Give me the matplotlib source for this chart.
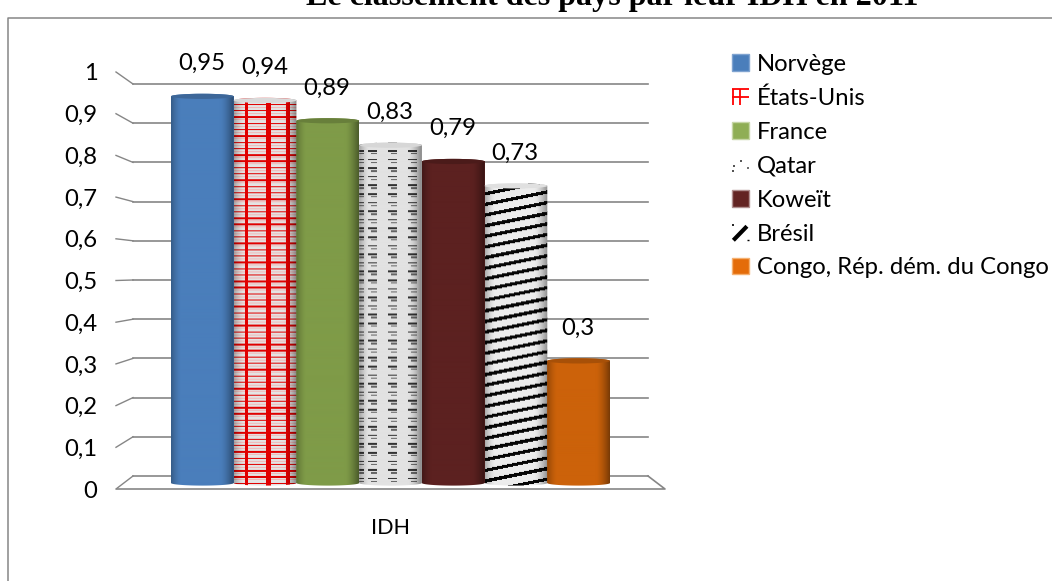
import numpy as np
import matplotlib
matplotlib.use('Agg')
import matplotlib.pyplot as plt
from matplotlib.legend_handler import HandlerBase
from matplotlib.lines import Line2D
from matplotlib.patches import Ellipse, Patch, PathPatch
from matplotlib.path import Path

W, H = 1052, 581

TITLE = 'Le classement des pays par leur IDH en 2011'
COUNTRIES = ['Norvège', 'États-Unis', 'France', 'Qatar', 'Koweït', 'Brésil', 'Congo, Rép. dém. du Congo']
IDH = [0.95, 0.94, 0.89, 0.83, 0.79, 0.73, 0.3]
VALUE_LABELS = ['0,95', '0,94', '0,89', '0,83', '0,79', '0,73', '0,3']
BASE_COLORS = ['#4a7ebb', '#e4e4e4', '#7f9b48', '#e2e2e2', '#5c2120', '#ececec', '#cc620a']
TEXTURES = [None, 'grid', None, 'dash', None, 'stripes', None]
Y_TICKS = [0, 0.1, 0.2, 0.3, 0.4, 0.5, 0.6, 0.7, 0.8, 0.9, 1]
Y_LABELS = ['0', '0,1', '0,2', '0,3', '0,4', '0,5', '0,6', '0,7', '0,8', '0,9', '1']

FONT = 'Lato'
GRID = '#868686'


def px_rect(x0, y0, x1, y1):
    # pixels du haut de l'image -> rect matplotlib
    return [x0 / W, 1 - y1 / H, (x1 - x0) / W, (y1 - y0) / H]


def make_texture(kind, base, w, h):
    rgb = np.ones((h, w, 3)) * np.array(matplotlib.colors.to_rgb(base))
    yy, xx = np.mgrid[0:h, 0:w]
    u = (xx + 0.5) / w
    if kind == 'grid':
        red = np.array([0.88, 0.0, 0.0])
        row = (yy - 1) % 6.3
        rgb[row < 1.4] = red
        rgb[(row >= 3) & (row < 4)] = [0.95, 0.72, 0.72]
        for c, t in [(0.2, 0.03), (0.54, 0.04), (0.86, 0.027)]:
            rgb[np.abs(u - c) < t] = red
    elif kind == 'dash':
        dark = np.array([0.2, 0.2, 0.2])
        row = yy % 8.6
        for c in [0.0, 0.21, 0.53, 0.85]:
            near = np.abs(u - c) < 0.075
            rgb[near & (row < 1.6)] = dark
            rgb[near & (u > c - 0.02) & (row >= 3) & (row < 4.4)] = dark * 2
    elif kind == 'stripes':
        phase = (yy + xx * 0.2) % 10.6
        rgb[phase < 3.4] = [0.02, 0.02, 0.02]
    # ombrage du cylindre
    shade = np.ones(w)
    uu = (np.arange(w) + 0.5) / w
    shade -= 0.28 * np.clip((0.16 - uu) / 0.16, 0, 1) ** 1.5
    shade -= 0.42 * np.clip((uu - 0.78) / 0.22, 0, 1) ** 1.5
    return np.clip(rgb * shade[None, :, None], 0, 1)


def cylinder_path(x0, x1, top, dy):
    t = np.linspace(0, np.pi, 40)
    cx, rx = (x0 + x1) / 2, (x1 - x0) / 2
    upper = np.column_stack([cx + rx * np.cos(t), top + dy * np.sin(t)])
    lower = np.column_stack([cx - rx * np.cos(t), -dy * np.sin(t)])
    return Path(np.vstack([upper, lower, upper[:1]]), closed=True)


class SwatchHandler(HandlerBase):
    # petits motifs de la légende, en coordonnées 0-1 du carré
    STROKES = {
        'grid': [('#ff0000', 1.3, [(0.05, 0.05), (0.05, 0.95)]), ('#ff0000', 1.3, [(0.5, 0.05), (0.5, 0.95)]),
                 ('#ff0000', 1.3, [(0, 0.95), (1, 0.95)]), ('#ff0000', 1.3, [(0, 0.5), (1, 0.5)])],
        'dash': [('#333333', 1.2, [(0.02, 0.1), (0.1, 0.1)]), ('#333333', 1.2, [(0.08, 0.4), (0.16, 0.4)]),
                 ('#555555', 1.4, [(0.45, 0.72), (0.58, 0.72)]), ('#555555', 1.2, [(0.9, 0.3), (0.98, 0.3)])],
        'stripes': [('black', 3.0, [(0.08, 0.02), (0.88, 0.85)]), ('black', 1.2, [(0.02, 0.95), (0.14, 0.95)]),
                    ('black', 1.0, [(0.9, 0.02), (1.0, 0.02)])],
    }

    def __init__(self, kind):
        super().__init__()
        self.kind = kind

    def create_artists(self, legend, orig_handle, xdescent, ydescent, width, height, fontsize, trans):
        lines = []
        for color, lw, pts in self.STROKES[self.kind]:
            px = [-xdescent + p[0] * width for p in pts]
            py = [-ydescent + p[1] * height for p in pts]
            lines.append(Line2D(px, py, color=color, lw=lw, transform=trans, solid_capstyle='butt'))
        return lines


fig = plt.figure(figsize=(W / 100, H / 100), dpi=100)

# cadre du graphique
fig.add_artist(Line2D([8 / W, 8 / W, 1], [0, 1 - 18 / H, 1 - 18 / H], color=GRID, lw=1.1))
fig.text(612 / W, 1 - 5 / H, TITLE, family='Liberation Serif', weight='bold', fontsize=23.1,
         ha='center', va='baseline', color='black')

# parois : axe en perspective
wall = fig.add_axes(px_rect(117, 72, 665, 489))
wall.set_xlim(117, 665)
wall.set_ylim(0, 1)
for s in wall.spines.values():
    s.set_visible(False)
wall.set_xticks([])
wall.set_yticks(Y_TICKS, Y_LABELS, family=FONT, fontsize=17.2)
wall.tick_params(axis='y', length=0, pad=14)


def back(v):
    # hauteur sur le mur du fond (84 px en haut, 476 px en bas)
    return (489 - (476 - 392 * v)) / 417


for v in Y_TICKS:
    wall.plot([133, 648], [back(v), back(v)], color=GRID, lw=1.2, clip_on=False)
    wall.plot([116, 133], [v, back(v)], color=GRID, lw=1.0, clip_on=False)
wall.plot([117, 665, 648], [0, 0, back(0)], color=GRID, lw=1.2, clip_on=False)

# cylindres
ax = fig.add_axes(px_rect(171, 76, 610, 483))
ax.patch.set_visible(False)
ax.set_zorder(2)
for s in ax.spines.values():
    s.set_visible(False)
xs = np.arange(len(IDH))
bars = ax.bar(xs, IDH, width=1.0, color=BASE_COLORS, zorder=1)
dy = 2.6 / 407
for bar, base, kind, v, lab in zip(bars, BASE_COLORS, TEXTURES, IDH, VALUE_LABELS):
    x0, x1 = bar.get_x(), bar.get_x() + bar.get_width()
    w_px, h_px = 63, int(v * 407) + 8
    tex = make_texture(kind, base, w_px, h_px)
    im = ax.imshow(tex, extent=(x0, x1, -4 / 407, v + 4 / 407), aspect='auto', origin='upper',
                   interpolation='bilinear', zorder=2)
    clip = PathPatch(cylinder_path(x0, x1, v, dy), transform=ax.transData)
    im.set_clip_path(clip)
    im.set_clip_box(fig.bbox)
    cap = np.array(matplotlib.colors.to_rgb(base)) * (0.95 if kind else 0.82)
    ax.add_patch(Ellipse(((x0 + x1) / 2, v), x1 - x0, 2 * dy, facecolor=cap, edgecolor='none',
                         zorder=3, clip_on=False))
    ax.annotate(lab, (bar.get_x() + 0.5, v), xytext=(-0.5, 23.5), textcoords='offset points',
                ha='center', va='center', family=FONT, fontsize=17.2)

ax.set_xlim(-0.5, 6.5)
ax.set_ylim(0, 1)
ax.set_yticks([])
ax.set_xticks([3], ['IDH'], family=FONT, fontsize=15.5)
ax.tick_params(axis='x', length=0, pad=25)

# légende
handles = [
    Patch(facecolor=BASE_COLORS[0], edgecolor='#7fa3d0'),
    Patch(label='grid'),
    Patch(facecolor='#8fae55', edgecolor='#c6d6a6'),
    Patch(label='dash'),
    Patch(facecolor='#632423', edgecolor='#b09090'),
    Patch(label='stripes'),
    Patch(facecolor='#e46c0a', edgecolor='#f5b070'),
]
handler_map = {h: SwatchHandler(h.get_label()) for h in handles if h.get_label() in SwatchHandler.STROKES}
leg = fig.legend(handles, COUNTRIES, loc='upper left', bbox_to_anchor=(732 / W, 1 - 54 / H),
                 frameon=False, prop={'family': FONT, 'size': 17.2}, handlelength=0.71, handleheight=0.71,
                 handletextpad=0.345, labelspacing=0.536, borderpad=0, borderaxespad=0,
                 handler_map=handler_map)

fig.savefig('out.png', dpi=100)
